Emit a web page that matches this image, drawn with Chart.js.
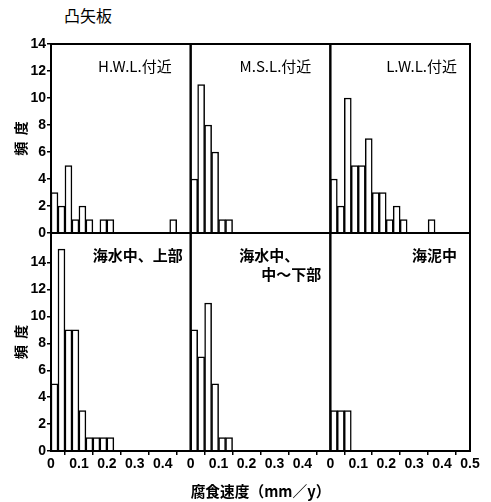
<!DOCTYPE html>
<html>
<head>
<meta charset="utf-8">
<script src="https://cdn.jsdelivr.net/npm/chart.js@4.4.1/dist/chart.umd.min.js"></script>
<style>
  body { margin: 0; background: #fff; }
  #wrap { position: relative; width: 491px; height: 502px; }
  #title { position: absolute; left: 64px; top: 5px; font: 16px/20px "Noto Sans CJK JP", sans-serif; color: #000; }
  canvas { position: absolute; left: 0; top: 0; }
</style>
</head>
<body>
<div id="wrap">
  <div id="title">凸矢板</div>
  <canvas id="hist" width="491" height="502"></canvas>
</div>
<script>
'use strict';
// bin starts (mm/y), bin width 0.025
const binWidth = 0.025;
const binStarts = [0, 0.025, 0.05, 0.075, 0.1, 0.125, 0.15, 0.175, 0.2, 0.225,
  0.25, 0.275, 0.3, 0.325, 0.35, 0.375, 0.4, 0.425, 0.45, 0.475];

// counts per bin
const hwlCounts      = [3, 2, 5, 1, 2, 1, 0, 1, 1, 0, 0, 0, 0, 0, 0, 0, 0, 1, 0, 0];
const mslCounts      = [4, 11, 8, 6, 1, 1, 0, 0, 0, 0, 0, 0, 0, 0, 0, 0, 0, 0, 0, 0];
const lwlCounts      = [4, 2, 10, 5, 5, 7, 3, 3, 1, 2, 1, 0, 0, 0, 1, 0, 0, 0, 0, 0];
const seaUpperCounts = [5, 15, 9, 9, 3, 1, 1, 1, 1, 0, 0, 0, 0, 0, 0, 0, 0, 0, 0, 0];
const seaLowerCounts = [9, 7, 11, 5, 1, 1, 0, 0, 0, 0, 0, 0, 0, 0, 0, 0, 0, 0, 0, 0];
const mudCounts      = [3, 3, 3, 0, 0, 0, 0, 0, 0, 0, 0, 0, 0, 0, 0, 0, 0, 0, 0, 0];

const yTicks = [0, 2, 4, 6, 8, 10, 12, 14];
const xTicks = [0, 0.1, 0.2, 0.3, 0.4];
const xTicksLast = [0, 0.1, 0.2, 0.3, 0.4, 0.5];

const panelLabels = [
  ['H.W.L.付近'], ['M.S.L.付近'], ['L.W.L.付近'],
  ['海水中、上部'], ['海水中、', '中～下部'], ['海泥中']
];

const panels = [
  {x: 'x0', y: 'yTop', counts: hwlCounts, label: panelLabels[0], inset: [19], bold: false},
  {x: 'x1', y: 'yTop', counts: mslCounts, label: panelLabels[1], inset: [19], bold: false},
  {x: 'x2', y: 'yTop', counts: lwlCounts, label: panelLabels[2], inset: [13], bold: false},
  {x: 'x0', y: 'yBot', counts: seaUpperCounts, label: panelLabels[3], inset: [8], bold: true},
  {x: 'x1', y: 'yBot', counts: seaLowerCounts, label: panelLabels[4], inset: [31, 9], bold: true},
  {x: 'x2', y: 'yBot', counts: mudCounts, label: panelLabels[5], inset: [13], bold: true}
];

const tickFont = {family: '"Liberation Sans", Arial, sans-serif', size: 14, weight: 'bold'};
const cjkFont = '"Noto Sans CJK JP", sans-serif';

function xAxis(ticks, showTitle) {
  return {
    type: 'linear', position: 'bottom', stack: 'cols', stackWeight: 1,
    min: 0, max: 0.5, offset: false,
    afterBuildTicks: s => { s.ticks = ticks.map(v => ({value: v})); },
    afterFit: s => { s.height = 51; },
    ticks: {color: '#000', font: tickFont, padding: 1, maxRotation: 0, autoSkip: false,
      callback: v => String(v)},
    grid: {drawOnChartArea: false, color: '#000', tickLength: 4, lineWidth: 1.5},
    border: {color: '#000', width: 2},
    title: {display: showTitle, text: '腐食速度（mm／y）', color: '#000',
      font: {family: cjkFont, size: 15, weight: 'bold'}, padding: {top: 0, bottom: 2}}
  };
}

function yAxis(max, weight) {
  return {
    type: 'linear', position: 'left', stack: 'rows', stackWeight: weight,
    min: 0, max: max,
    afterBuildTicks: s => { s.ticks = yTicks.map(v => ({value: v})); },
    afterFit: s => { s.width = 51; },
    ticks: {color: '#000', font: tickFont, padding: 1, autoSkip: false},
    grid: {drawOnChartArea: false, color: '#000', tickLength: 4, lineWidth: 1.5},
    border: {color: '#000', width: 2},
    title: {display: true, text: '頻  度', color: '#000',
      font: {family: cjkFont, size: 14, weight: 'bold'}, padding: {top: 12, bottom: 0}}
  };
}

// panel frames
const framePlugin = {
  id: 'frames',
  afterDatasetsDraw(chart) {
    const ctx = chart.ctx;
    ctx.save();
    ctx.strokeStyle = '#000';
    ctx.lineWidth = 2;
    panels.forEach(p => {
      const xs = chart.scales[p.x], ys = chart.scales[p.y];
      ctx.strokeRect(xs.left, ys.top, xs.right - xs.left, ys.bottom - ys.top);
    });
    ctx.restore();
  }
};

// panel captions
const captionPlugin = {
  id: 'captions',
  afterDraw(chart) {
    const ctx = chart.ctx;
    ctx.save();
    ctx.fillStyle = '#000';
    ctx.textAlign = 'right';
    ctx.textBaseline = 'middle';
    panels.forEach(p => {
      const xs = chart.scales[p.x], ys = chart.scales[p.y];
      ctx.font = (p.bold ? 'bold ' : '') + '15px ' + cjkFont;
      p.label.forEach((line, i) => {
        ctx.fillText(line, xs.right - p.inset[i], ys.top + 22 + i * 19);
      });
    });
    ctx.restore();
  }
};

new Chart(document.getElementById('hist'), {
  type: 'bar',
  data: {
    datasets: panels.map(p => ({
      data: binStarts.map((b, i) => ({x: b + binWidth / 2, y: p.counts[i]})),
      xAxisID: p.x,
      yAxisID: p.y,
      grouped: false,
      barPercentage: 1,
      categoryPercentage: 1,
      backgroundColor: '#fff',
      borderColor: '#000',
      borderWidth: 1.5
    }))
  },
  options: {
    responsive: false,
    animation: false,
    layout: {padding: {top: 44, right: 21, left: 0, bottom: 0}},
    plugins: {legend: {display: false}, tooltip: {enabled: false}},
    scales: {
      x0: xAxis(xTicks, false),
      x1: xAxis(xTicks, true),
      x2: xAxis(xTicksLast, false),
      yBot: yAxis(16.2, 218),
      yTop: yAxis(14, 189)
    }
  },
  plugins: [framePlugin, captionPlugin]
});
</script>
</body>
</html>
